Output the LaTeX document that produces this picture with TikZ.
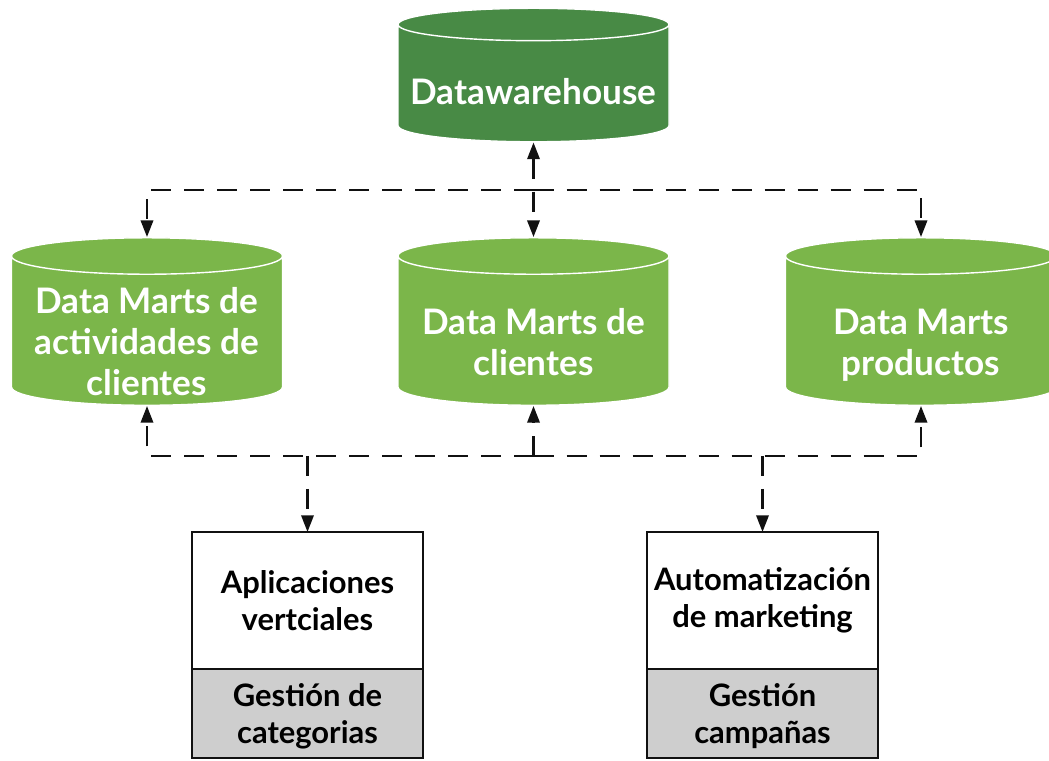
\documentclass[tikz,border=0pt]{standalone}
\usepackage{fontspec}
\setmainfont{Lato}
\usetikzlibrary{arrows.meta,positioning,shapes.geometric,calc}
\definecolor{whDark}{HTML}{488A45}
\definecolor{whLight}{HTML}{7BB64A}
\definecolor{whGray}{HTML}{CECECE}
\definecolor{whInk}{HTML}{111111}

\begin{document}
\begin{tikzpicture}[
  x=1cm,
  y=1cm,
  store/.style={
    cylinder,
    shape border rotate=90,
    shape aspect=.135,
    anchor=south,
    draw=white,
    line width=.8pt,
    cylinder uses custom fill,
    cylinder body fill=whLight,
    cylinder end fill=whLight,
    text width=5.4cm,
    minimum width=5.42cm,
    minimum height=3.35cm,
    inner sep=0pt
  },
  warehouse/.style={store, cylinder body fill=whDark, cylinder end fill=whDark,
    minimum height=2.67cm, shape aspect=.12},
  storelabel/.style={
    align=center,
    text=white,
    inner sep=0pt,
    font=\fontsize{20}{23.4}\selectfont\bfseries
  },
  appbox/.style={
    draw=whInk,
    fill=white,
    line width=1.1pt,
    minimum width=4.62cm,
    minimum height=2.74cm,
    inner sep=0pt,
    outer sep=0pt,
    align=center,
    font=\fontsize{17.6}{21}\selectfont\bfseries
  },
  taskbox/.style={appbox, fill=whGray, minimum height=1.78cm, text depth=0pt},
  link/.style={draw=whInk, line width=1.4pt, dash pattern=on .4cm off .26cm},
  flow/.style={link, -{Triangle[length=9.5pt,width=7pt]}},
  flows/.style={link, {Triangle[length=9.5pt,width=7pt]}-{Triangle[length=9.5pt,width=7pt]}}
]

\path[use as bounding box] (0,0) rectangle (20.98,15.22);

\node[warehouse] (dw) at (10.67,12.37) {};
\node[storelabel] (dwLabel) at (10.67,13.38) {Datawarehouse};

\node[store] (dmA) at (2.94,7.10) {};
\node[store] (dmB) at (10.67,7.10) {};
\node[store] (dmC) at (18.42,7.10) {};
\node[storelabel] (dmALabel) at (2.94,8.39) {Data Marts de\\actividades de\\clientes};
\node[storelabel] (dmBLabel) at (10.67,8.37) {Data Marts de\\clientes};
\node[storelabel] (dmCLabel) at (18.42,8.31) {Data Marts\\productos};

\node[appbox] (appA) at (6.15,3.21) {Aplicaciones\\vertciales};
\node[taskbox, below=0cm of appA] (taskA) {Gestión de\\categorias};
\node[appbox] (appB) at (15.25,3.21) {Automatización\\de marketing};
\node[taskbox, below=0cm of appB] (taskB) {Gestión\\campañas};

\coordinate (hub) at ($(dw.south)!.5!(dmB.north)$);
\coordinate[below=1cm of dmB.south] (bus);

\draw[flows] (dw.south) -- (dmB.north);
\draw[flow] (hub) -| (dmA.north);
\draw[flow] (hub) -| (dmC.north);

\draw[flow] (bus) -| (dmA.south);
\draw[flow] (bus) -| (dmC.south);
\draw[flow] (bus) -- (dmB.south);
\draw[flow] (bus -| appA.north) -- (appA.north);
\draw[flow] (bus -| appB.north) -- (appB.north);
\end{tikzpicture}
\end{document}
